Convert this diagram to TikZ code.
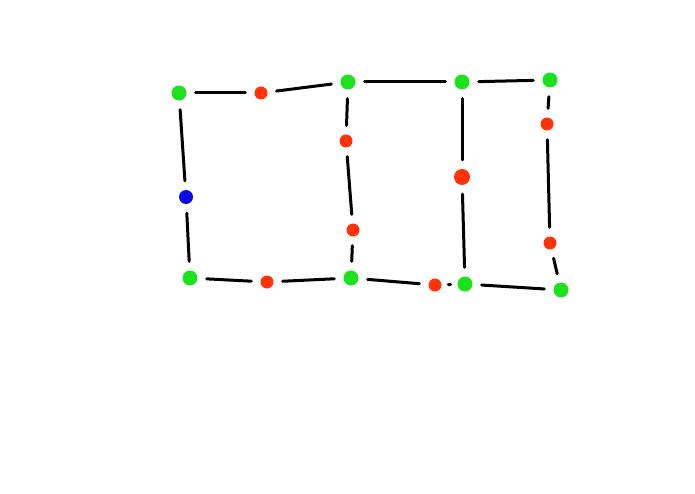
\documentclass[tikz,border=0pt]{standalone}
\usepackage{tikz}
\definecolor{dotgreen}{RGB}{30,225,30}
\definecolor{dotred}{RGB}{255,50,10}
\definecolor{dotblue}{RGB}{10,10,235}
\tikzset{
  corner/.style={circle, fill=dotgreen, inner sep=0pt, minimum size=15pt},
  mid/.style={circle, fill=dotred, inner sep=0pt, minimum size=13pt},
  side/.style={circle, fill=dotblue, inner sep=0pt, minimum size=14pt},
  edge/.style={line width=3pt, line cap=round, shorten <=9pt, shorten >=9pt}
}

\begin{document}
\begin{tikzpicture}[x=1pt, y=-1pt]
    \useasboundingbox (0, 0) rectangle (695, 494);
    \node [corner] (tl) at (179, 93) {};
    \node [corner] (ta) at (348, 82) {};
    \node [corner] (tb) at (462, 82) {};
    \node [corner] (tr) at (550, 80) {};
    \node [corner] (bl) at (190, 278) {};
    \node [corner] (ba) at (351, 278) {};
    \node [corner] (bb) at (465, 284) {};
    \node [corner] (br) at (561, 290) {};
    \node [side] (left) at (186, 197) {};
    \node [mid] (top) at (261, 93) {};
    \node [mid] (bot) at (267, 282) {};
    \node [mid] (bot2) at (435, 285) {};
    \node [mid] (a1) at (346, 141) {};
    \node [mid] (a2) at (353, 230) {};
    \node [mid, minimum size=16pt] (b1) at (462, 177) {};
    \node [mid] (r1) at (547, 124) {};
    \node [mid] (r2) at (550, 243) {};
    \draw [edge] (tl) -- (top);
    \draw [edge] (top) -- (ta);
    \draw [edge] (ta) -- (tb);
    \draw [edge] (tb) -- (tr);
    \draw [edge] (tl) -- (left);
    \draw [edge] (left) -- (bl);
    \draw [edge] (ta) -- (a1);
    \draw [edge] (a1) -- (a2);
    \draw [edge] (a2) -- (ba);
    \draw [edge] (tb) -- (b1);
    \draw [edge] (b1) -- (bb);
    \draw [edge] (tr) -- (r1);
    \draw [edge] (r1) -- (r2);
    \draw [edge] (r2) -- (br);
    \draw [edge] (bl) -- (bot);
    \draw [edge] (bot) -- (ba);
    \draw [edge] (ba) -- (bot2);
    \draw [edge] (bot2) -- (bb);
    \draw [edge] (bb) -- (br);
\end{tikzpicture}
\end{document}
